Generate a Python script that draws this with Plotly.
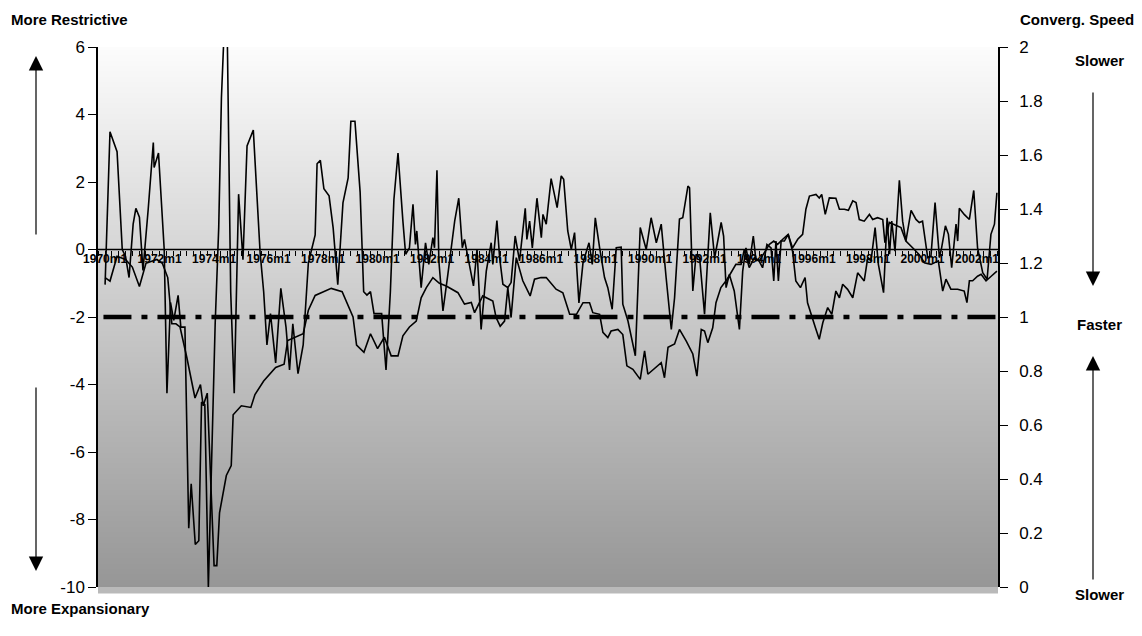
import plotly.graph_objects as go

# volatile series (left axis), read as (decimal year, value)
stance_t = [1970.0, 1970.18, 1970.44, 1970.63, 1970.75, 1970.88, 1971.03, 1971.13, 1971.26, 1971.39,
            1971.58, 1971.77, 1971.8, 1971.96, 1972.17, 1972.27, 1972.4, 1972.52, 1972.68, 1972.78,
            1972.93, 1973.07, 1973.16, 1973.31, 1973.44, 1973.54, 1973.66, 1973.79, 1974.04, 1974.17,
            1974.27, 1974.36, 1974.49, 1974.61, 1974.74, 1974.83, 1974.9, 1975.06, 1975.21, 1975.44,
            1975.69, 1975.82, 1975.94, 1976.07, 1976.26, 1976.45, 1976.64, 1976.77, 1976.89, 1977.08,
            1977.27, 1977.46, 1977.71, 1977.78, 1977.9, 1978.03, 1978.22, 1978.37, 1978.54, 1978.73,
            1978.92, 1979.02, 1979.17, 1979.36, 1979.49, 1979.61, 1979.74, 1979.87, 1980.15, 1980.31,
            1980.47, 1980.6, 1980.75,
            1980.93, 1981.03, 1981.17, 1981.3, 1981.39, 1981.44, 1981.6, 1981.76, 1981.88, 1982.03,
            1982.09, 1982.18, 1982.25, 1982.4, 1982.58, 1982.7, 1982.83, 1982.98, 1983.11, 1983.19,
            1983.38, 1983.52, 1983.65, 1983.8, 1983.99, 1984.17, 1984.23, 1984.38, 1984.48, 1984.6,
            1984.78, 1984.9, 1985.05, 1985.21, 1985.42, 1985.48, 1985.58, 1985.68, 1985.85, 1986.01,
            1986.07, 1986.19, 1986.37, 1986.59, 1986.74, 1986.83, 1986.98, 1987.11, 1987.23, 1987.39,
            1987.54, 1987.76, 1987.88, 1987.99, 1988.15, 1988.33, 1988.45, 1988.61, 1988.76, 1988.94,
            1989.0, 1989.19, 1989.46, 1989.64, 1989.86, 1990.04, 1990.23, 1990.41, 1990.59, 1990.78,
            1990.9, 1991.08, 1991.2, 1991.39, 1991.45, 1991.57, 1991.69, 1991.82, 1992.0, 1992.12,
            1992.21, 1992.37, 1992.61,
            1992.7, 1992.79, 1992.91, 1993.09, 1993.28, 1993.4, 1993.52, 1993.64, 1993.79, 1993.89,
            1993.97, 1994.13, 1994.29, 1994.44, 1994.54, 1994.62, 1994.71, 1994.81, 1994.93, 1995.07,
            1995.23, 1995.35, 1995.52, 1995.69, 1995.78, 1995.97, 1996.07, 1996.21, 1996.34, 1996.52,
            1996.67, 1996.82, 1996.95, 1997.07, 1997.25, 1997.44, 1997.62, 1997.86, 1997.99, 1998.11,
            1998.26, 1998.38, 1998.57, 1998.7, 1998.79, 1998.87, 1998.99, 1999.15, 1999.27, 1999.39,
            1999.58, 1999.76, 1999.88, 2000.0, 2000.19, 2000.31, 2000.46, 2000.62, 2000.7, 2000.84,
            2000.95, 2001.07, 2001.23, 2001.29, 2001.35, 2001.53, 2001.72, 2001.88, 2002.02, 2002.21,
            2002.37, 2002.51, 2002.64, 2002.73]
stance = [-1.04, 3.49, 2.9, 0.0, -0.2, -0.83, 0.75, 1.22, 0.96, -0.62,
          1.17, 3.17, 2.43, 2.86, 0.0, -4.26, -1.57, -2.1, -1.36, -2.3,
          -2.3, -8.26, -6.94, -8.74, -8.63, -4.52, -4.6, -10.0, -2.2, 0.64,
          4.5, 6.3, 6.0, -1.25, -4.26, -0.73, 1.64, -0.3, 3.07, 3.54,
          -0.1, -1.25, -2.83, -1.9, -3.36, -1.15, -2.3, -3.57, -2.2, -3.68,
          -2.83, -0.4, 0.43, 2.54, 2.64, 1.8, 1.59, 0.64, -1.04, 1.38,
          2.12, 3.8, 3.8, 1.7, -1.25, -1.35, -1.25, -1.9, -1.9, -3.57,
          -1.25, 1.48, 2.86,
          0.84, -0.14, 0.05, 1.34, 0.15, 0.55, -1.13, 0.2, -0.44, 0.35,
          0.05, 2.35, -0.34, -1.82, -0.74, 0.0, 0.84, 1.52, 0.05, 0.3,
          -0.54, -1.08, 0.0, -2.37, -0.64, 0.2, -0.44, 0.86, -0.24, -1.03,
          -1.13, -0.98, 0.4, -0.34, 1.22, 0.3, 0.84, 0.05, 1.52, 0.35,
          1.04, 0.75, 2.1, 1.24, 2.18, 2.08, 0.55, 0.0, 0.5, -1.58,
          -0.39, 0.2, -0.44, 0.94, 0.05, -0.83, -1.13, -1.77, 0.05, 0.07,
          -1.62, -2.12, -3.15, 0.65, 0.0, 0.94, 0.2, 0.75, -0.83, -2.37,
          -1.43, 0.9, 0.94, 1.88, 1.83, -1.23, -0.14, -0.24, -1.92, -0.05,
          1.09, -0.25, 0.8,
          0.4, -1.13, -0.74, -1.23, -2.37, -0.64, 0.05, -0.44, 0.4, -0.34,
          -0.29, -0.54, 0.15, 0.05, -0.93, 0.25, -0.93, 0.25, 0.25, 0.45,
          -0.05, -0.93, -1.13, -0.83, -1.58, -2.02, -2.32, -2.66, -2.17, -1.72,
          -1.92, -1.23, -1.43, -1.03, -1.18, -1.43, -0.69, -0.93, -0.24, -0.34,
          0.65, -0.44, -1.28, 0.94, -0.14, 0.84, -0.05, 2.05, 0.84, 0.25,
          1.16, 0.89, 0.8, 0.84, -0.24, -0.19, 1.39, -0.24, 0.05, 0.7,
          0.45, -0.54, 0.75, 0.25, 1.22, 1.04, 0.89, 1.75, 0.05, -0.69,
          -0.88, 0.45, 0.75, 1.68]

# convergence speed (right axis)
speed_t = [1970.0, 1970.18, 1970.44, 1970.75, 1971.0, 1971.26, 1971.5, 1971.9, 1972.1, 1972.3,
           1972.45, 1972.6, 1972.75, 1973.0, 1973.3, 1973.5, 1973.6, 1973.75, 1974.0, 1974.1,
           1974.2, 1974.45, 1974.63, 1974.7, 1975.0, 1975.35, 1975.5, 1975.82, 1976.26, 1976.57,
           1976.7, 1977.27, 1977.46, 1977.71, 1978.3, 1978.7, 1979.1, 1979.23, 1979.5, 1979.74,
           1980.0, 1980.25, 1980.5, 1980.75,
           1980.93, 1981.17, 1981.42, 1981.6, 1981.79, 1982.03, 1982.27, 1982.52, 1982.95, 1983.19,
           1983.44, 1983.56, 1983.86, 1984.23, 1984.35, 1984.5, 1984.66, 1984.78, 1984.9, 1985.09,
           1985.33, 1985.6, 1985.76, 1986.0, 1986.19, 1986.55, 1986.8, 1987.05, 1987.3, 1987.54,
           1987.78, 1987.9, 1988.15, 1988.27, 1988.45, 1988.57, 1988.82, 1989.0, 1989.15, 1989.37,
           1989.64, 1989.8, 1989.92, 1990.22, 1990.41, 1990.53, 1990.66, 1990.9, 1991.08, 1991.33,
           1991.57, 1991.72, 1991.88, 1992.0, 1992.12, 1992.3, 1992.42, 1992.6, 1992.79, 1992.97,
           1993.15, 1993.34, 1993.46, 1993.64, 1993.83, 1994.01, 1994.19, 1994.38, 1994.54, 1994.68,
           1994.87, 1995.07, 1995.23, 1995.42, 1995.6, 1995.72, 1995.85, 1996.09, 1996.21, 1996.3,
           1996.43, 1996.58, 1996.82, 1996.95, 1997.13, 1997.28, 1997.44, 1997.56, 1997.68, 1997.86,
           1998.05, 1998.17, 1998.35, 1998.54, 1998.62, 1998.78, 1999.21, 1999.39, 1999.7, 1999.88,
           2000.07, 2000.31, 2000.58, 2000.74, 2000.86, 2001.04, 2001.29, 2001.53, 2001.63, 2001.72,
           2001.84, 2002.02, 2002.15, 2002.33, 2002.52, 2002.73]
speed = [1.146, 1.133, 1.225, 1.213, 1.185, 1.113, 1.199, 1.213, 1.199, 1.146,
         0.975, 0.975, 0.963, 0.85, 0.70, 0.75, 0.671, 0.718, 0.079, 0.079,
         0.275, 0.413, 0.45, 0.638, 0.671, 0.665, 0.713, 0.763, 0.813, 0.825,
         0.913, 0.938, 1.025, 1.08, 1.106, 1.094, 1.0, 0.896, 0.869, 0.938,
         0.883, 0.925, 0.856, 0.856,
         0.93, 0.963, 0.985, 1.071, 1.109, 1.146, 1.125, 1.115, 1.09, 1.048,
         1.054, 1.016, 1.078, 1.059, 0.998, 0.966, 0.985, 1.109, 0.998, 1.22,
         1.134, 1.078, 1.14, 1.146, 1.146, 1.103, 1.09, 1.01, 1.01, 1.053,
         1.053, 1.016, 1.01, 0.943, 0.924, 0.948, 0.954, 0.935, 0.819, 0.806,
         0.769, 0.875, 0.788, 0.813, 0.831, 0.775, 0.888, 0.9, 0.954, 0.911,
         0.863, 0.781, 0.954, 0.948, 0.905, 0.96, 1.053, 1.109, 1.134, 1.164,
         1.195, 1.195, 1.25, 1.183, 1.22, 1.208, 1.238, 1.269, 1.281, 1.269,
         1.288, 1.306, 1.256, 1.288, 1.306, 1.399, 1.448, 1.454, 1.441, 1.454,
         1.38, 1.441, 1.44, 1.399, 1.399, 1.395, 1.43, 1.424, 1.361, 1.355,
         1.38, 1.361, 1.368, 1.361, 1.275, 1.35, 1.331, 1.281, 1.25, 1.231,
         1.201, 1.195, 1.208, 1.096, 1.14, 1.103, 1.103, 1.096, 1.053, 1.134,
         1.134, 1.151, 1.158, 1.134, 1.151, 1.17]

tick_years = list(range(1970, 2003, 2))
tick_text = [f"{y}m1" for y in tick_years]
left_ticks = [-10, -8, -6, -4, -2, 0, 2, 4, 6]
left_text = [str(v) for v in left_ticks]
right_ticks = [0, 0.2, 0.4, 0.6, 0.8, 1, 1.2, 1.4, 1.6, 1.8, 2]
right_text = ["0", "0.2", "0.4", "0.6", "0.8", "1", "1.2", "1.4", "1.6", "1.8", "2"]

grad_y = [-10, 6]
grad_z = [[0], [1]]

X0, X1 = 1969.74, 2002.77
FONT = "Liberation Sans, Arial, sans-serif"

fig = go.Figure()
fig.add_trace(go.Heatmap(x=[X0, X1], y=grad_y, z=grad_z, showscale=False, hoverinfo="skip",
                         colorscale=[[0, "rgb(150,150,150)"], [1, "rgb(252,252,252)"]],
                         zsmooth="best"))
fig.add_trace(go.Scatter(x=stance_t, y=stance, mode="lines", line=dict(color="black", width=1.6),
                         showlegend=False))
fig.add_trace(go.Scatter(x=speed_t, y=speed, mode="lines", line=dict(color="black", width=1.6),
                         yaxis="y2", showlegend=False))

fig.add_shape(type="line", x0=X0 + 0.2, x1=X1, y0=-2, y1=-2, xref="x", yref="y",
              line=dict(color="black", width=4.5, dash="28px,10px,6px,10px"))
fig.add_shape(type="line", x0=X0, x1=X1, y0=0, y1=0, xref="x", yref="y",
              line=dict(color="black", width=1.5))
fig.add_shape(type="rect", x0=0, x1=1, y0=-0.012, y1=0, xref="paper", yref="paper",
              fillcolor="rgb(185,185,185)", line_width=0)

fig.update_layout(
    width=1142, height=636, margin=dict(l=90, r=152, t=39, b=57),
    paper_bgcolor="white", plot_bgcolor="white",
    font=dict(family=FONT, color="black", size=17),
    xaxis=dict(range=[X0, X1], tickvals=tick_years, ticktext=tick_text, showgrid=False,
               zeroline=False, anchor="free", position=0.625, ticks="", showline=False,
               tickfont=dict(size=12, weight="bold"), ticklabelstandoff=0,
               minor=dict(dtick=0.25, tick0=1970, ticks="outside", ticklen=5, tickcolor="black",
                          showgrid=False)),
    yaxis=dict(range=[-10, 6], tickvals=left_ticks, ticktext=left_text, showgrid=False,
               zeroline=False, showline=True, linecolor="black", linewidth=1.5,
               ticks="outside", ticklen=8, tickcolor="black"),
    yaxis2=dict(range=[0, 2], tickvals=right_ticks, ticktext=right_text, overlaying="y",
                side="right", showgrid=False, zeroline=False, showline=True, linecolor="black",
                linewidth=1.5, ticks="outside", ticklen=8, tickcolor="black",
                ticklabelstandoff=8),
)


def px(xp, yp):
    return (xp - 97) / 900, (586 - yp) / 540


labels = [("More Restrictive", 8, 18, "left"), ("Converg. Speed", 1135, 18, "right"),
          ("Slower", 1098, 60, "center"), ("Faster", 1098, 323, "center"),
          ("Slower", 1098, 593, "center"), ("More Expansionary", 8, 607, "left")]
for text, xp, yp, al in labels:
    xx, yy = px(xp, yp)
    fig.add_annotation(x=xx, y=yy, xref="paper", yref="paper", text=f"<b>{text}</b>",
                       showarrow=False, xanchor=al, yanchor="middle", font=dict(size=15))

arrows = [(35, 55, 0, 180), (35, 570, 0, -185), (1092, 285, 0, -195), (1092, 355, 0, 225)]
for xp, yp, ax, ay in arrows:
    xx, yy = px(xp, yp)
    fig.add_annotation(x=xx, y=yy, xref="paper", yref="paper", text="", showarrow=True,
                       ax=ax, ay=ay, axref="pixel", ayref="pixel", arrowhead=2,
                       arrowsize=2.4, arrowwidth=1.2, arrowcolor="black")

fig.write_html("out.html")
